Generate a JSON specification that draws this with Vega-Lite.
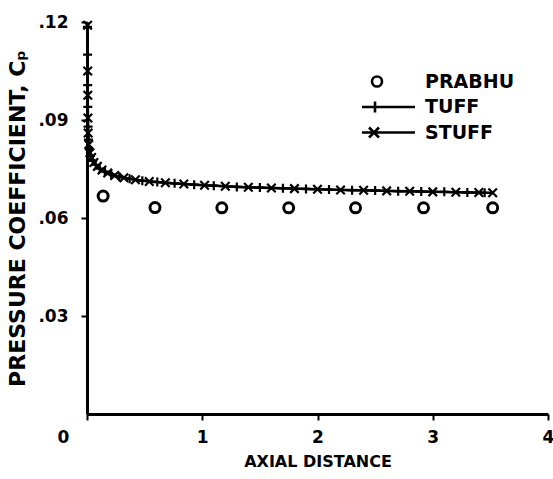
{
  "$schema": "https://vega.github.io/schema/vega-lite/v6.json",
  "width": 461,
  "height": 392,
  "autosize": {"type": "none"},
  "padding": {"left": 87, "top": 22, "right": 5, "bottom": 65},
  "background": "white",
  "config": {
    "view": {"stroke": null},
    "font": "DejaVu Sans",
    "axis": {
      "domainColor": "black", "domainWidth": 3, "tickColor": "black", "tickWidth": 2, "tickSize": 6,
      "labelColor": "black", "labelFont": "DejaVu Sans", "labelFontWeight": "bold", "labelFontSize": 17,
      "titleColor": "black", "titleFont": "DejaVu Sans", "titleFontWeight": "bold", "titleFontSize": 16,
      "grid": false
    },
    "legend": {"labelFont": "DejaVu Sans", "labelFontWeight": "bold", "labelFontSize": 19, "labelColor": "black"}
  },
  "data": {"values": [
    {"series": "PRABHU", "x": 0.14, "y": 0.0667},
    {"series": "PRABHU", "x": 0.59, "y": 0.0632},
    {"series": "PRABHU", "x": 1.17, "y": 0.0631},
    {"series": "PRABHU", "x": 1.75, "y": 0.0631},
    {"series": "PRABHU", "x": 2.33, "y": 0.0631},
    {"series": "PRABHU", "x": 2.92, "y": 0.0631},
    {"series": "PRABHU", "x": 3.52, "y": 0.0631},

    {"series": "STUFF", "x": 0.005, "y": 0.1190},
    {"series": "STUFF", "x": 0.006, "y": 0.1050},
    {"series": "STUFF", "x": 0.007, "y": 0.0976},
    {"series": "STUFF", "x": 0.008, "y": 0.0906},
    {"series": "STUFF", "x": 0.010, "y": 0.0860},
    {"series": "STUFF", "x": 0.015, "y": 0.0825},
    {"series": "STUFF", "x": 0.025, "y": 0.0800},
    {"series": "STUFF", "x": 0.040, "y": 0.0785},
    {"series": "STUFF", "x": 0.060, "y": 0.0770},
    {"series": "STUFF", "x": 0.090, "y": 0.0758},
    {"series": "STUFF", "x": 0.130, "y": 0.0747},
    {"series": "STUFF", "x": 0.180, "y": 0.0738},
    {"series": "STUFF", "x": 0.240, "y": 0.0730},
    {"series": "STUFF", "x": 0.320, "y": 0.0723},
    {"series": "STUFF", "x": 0.420, "y": 0.0717},
    {"series": "STUFF", "x": 0.540, "y": 0.0712},
    {"series": "STUFF", "x": 0.680, "y": 0.0708},
    {"series": "STUFF", "x": 0.840, "y": 0.0704},
    {"series": "STUFF", "x": 1.020, "y": 0.0700},
    {"series": "STUFF", "x": 1.200, "y": 0.0697},
    {"series": "STUFF", "x": 1.400, "y": 0.0694},
    {"series": "STUFF", "x": 1.600, "y": 0.0692},
    {"series": "STUFF", "x": 1.800, "y": 0.0690},
    {"series": "STUFF", "x": 2.000, "y": 0.0688},
    {"series": "STUFF", "x": 2.200, "y": 0.0686},
    {"series": "STUFF", "x": 2.400, "y": 0.0685},
    {"series": "STUFF", "x": 2.600, "y": 0.0683},
    {"series": "STUFF", "x": 2.800, "y": 0.0682},
    {"series": "STUFF", "x": 3.000, "y": 0.0680},
    {"series": "STUFF", "x": 3.200, "y": 0.0679},
    {"series": "STUFF", "x": 3.400, "y": 0.0678},
    {"series": "STUFF", "x": 3.520, "y": 0.0677},

    {"series": "TUFF", "x": 0.004, "y": 0.1185},
    {"series": "TUFF", "x": 0.005, "y": 0.1100},
    {"series": "TUFF", "x": 0.006, "y": 0.1007},
    {"series": "TUFF", "x": 0.007, "y": 0.0940},
    {"series": "TUFF", "x": 0.009, "y": 0.0880},
    {"series": "TUFF", "x": 0.012, "y": 0.0840},
    {"series": "TUFF", "x": 0.020, "y": 0.0810},
    {"series": "TUFF", "x": 0.030, "y": 0.0790},
    {"series": "TUFF", "x": 0.050, "y": 0.0775},
    {"series": "TUFF", "x": 0.075, "y": 0.0763},
    {"series": "TUFF", "x": 0.110, "y": 0.0751},
    {"series": "TUFF", "x": 0.155, "y": 0.0742},
    {"series": "TUFF", "x": 0.210, "y": 0.0734},
    {"series": "TUFF", "x": 0.280, "y": 0.0726},
    {"series": "TUFF", "x": 0.370, "y": 0.0720},
    {"series": "TUFF", "x": 0.480, "y": 0.0714},
    {"series": "TUFF", "x": 0.610, "y": 0.0710},
    {"series": "TUFF", "x": 0.760, "y": 0.0706},
    {"series": "TUFF", "x": 0.930, "y": 0.0702},
    {"series": "TUFF", "x": 1.100, "y": 0.0699},
    {"series": "TUFF", "x": 1.300, "y": 0.0695},
    {"series": "TUFF", "x": 1.500, "y": 0.0693},
    {"series": "TUFF", "x": 1.700, "y": 0.0691},
    {"series": "TUFF", "x": 1.900, "y": 0.0689},
    {"series": "TUFF", "x": 2.100, "y": 0.0687},
    {"series": "TUFF", "x": 2.300, "y": 0.0685},
    {"series": "TUFF", "x": 2.500, "y": 0.0684},
    {"series": "TUFF", "x": 2.700, "y": 0.0682},
    {"series": "TUFF", "x": 2.900, "y": 0.0681},
    {"series": "TUFF", "x": 3.100, "y": 0.0680},
    {"series": "TUFF", "x": 3.300, "y": 0.0678},
    {"series": "TUFF", "x": 3.450, "y": 0.0677}
  ]},
  "encoding": {
    "x": {
      "field": "x", "type": "quantitative",
      "scale": {"domain": [0, 4], "nice": false, "zero": false},
      "axis": {
        "title": "AXIAL DISTANCE", "values": [0, 1, 2, 3, 4], "format": "d",
        "labelPadding": 9, "titlePadding": 8, "labelFlush": false,
        "labelOffset": {"condition": {"test": "datum.value === 0", "value": -24}, "value": 0}
      }
    },
    "y": {
      "field": "y", "type": "quantitative",
      "scale": {"domain": [0, 0.12], "nice": false},
      "axis": {
        "title": "PRESSURE COEFFICIENT, Cₚ", "values": [0.03, 0.06, 0.09, 0.12],
        "labelExpr": "replace(format(datum.value, '.2f'), '0.', '.')",
        "labelPadding": 13, "titlePadding": 8, "labelFlush": false,
        "titleFontSize": 22
      }
    }
  },
  "resolve": {"scale": {"shape": "independent"}, "legend": {"shape": "independent"}},
  "layer": [
    {
      "transform": [{"filter": "datum.series !== 'PRABHU'"}],
      "mark": {"type": "line", "color": "black", "strokeWidth": 2.4},
      "encoding": {"detail": {"field": "series"}}
    },
    {
      "mark": {"type": "point", "filled": false, "color": "black", "size": 100, "opacity": 1},
      "encoding": {
        "strokeWidth": {"condition": {"test": "datum.series === 'PRABHU'", "value": 3}, "value": 2.2},
        "shape": {
          "field": "series", "type": "nominal",
          "scale": {
            "domain": ["PRABHU", "TUFF", "STUFF"],
            "range": ["circle", "M-0.9,0L0.9,0M0,-0.9L0,0.9", "M-0.85,-0.85L0.85,0.85M-0.85,0.85L0.85,-0.85"]
          },
          "legend": null
        }
      }
    },
    {
      "mark": {"type": "point", "filled": false, "color": "black", "size": 100, "opacity": 0, "strokeWidth": 2.4},
      "encoding": {
        "shape": {
          "field": "series", "type": "nominal",
          "scale": {
            "domain": ["PRABHU", "TUFF", "STUFF"],
            "range": [
              "M-3.3,0A1,1,0,1,1,-1.3,0A1,1,0,1,1,-3.3,0Z",
              "M-5.3,0L5.3,0M-2.7,-1.1L-2.7,1.1",
              "M-5.3,0L5.3,0M-3.9,-1L-1.9,1M-3.9,1L-1.9,-1"
            ]
          },
          "legend": {
            "title": null, "orient": "none", "legendX": 292, "legendY": 50,
            "padding": 0, "rowPadding": 3.5, "labelOffset": 27,
            "symbolSize": 100, "symbolStrokeWidth": 2.6, "symbolStrokeColor": "black",
            "symbolFillColor": "transparent", "symbolOpacity": 1
          }
        }
      }
    }
  ]
}
